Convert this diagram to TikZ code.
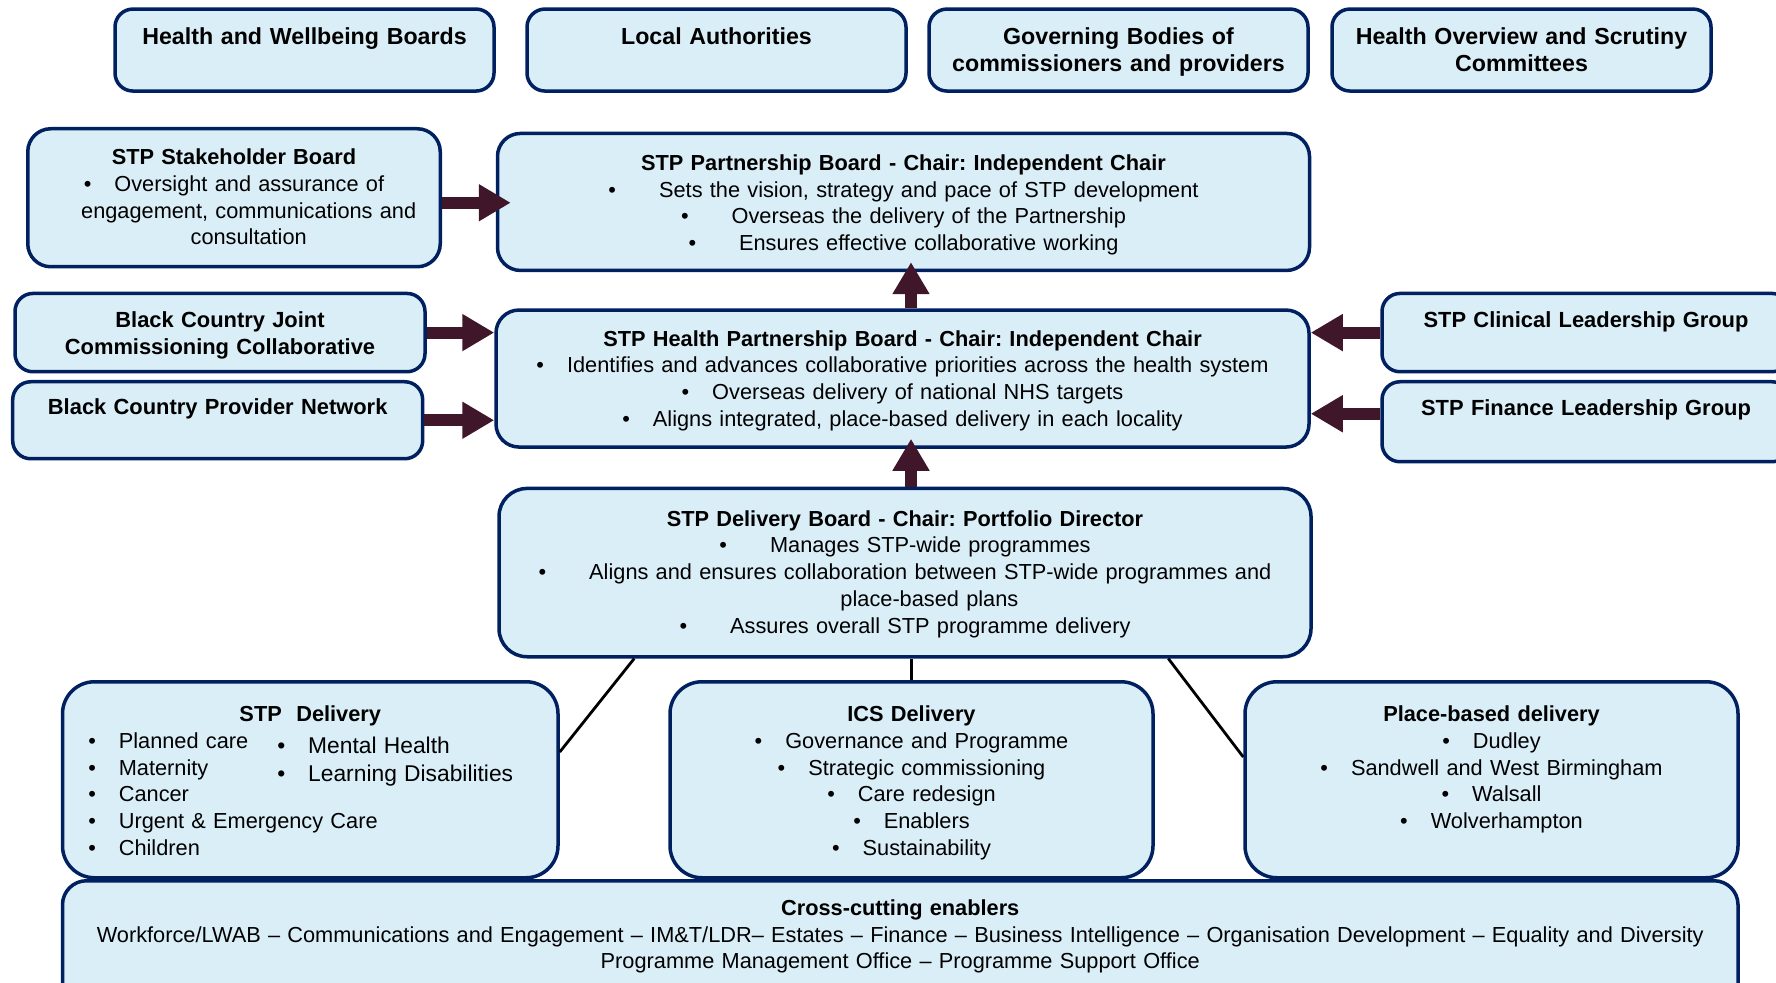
\documentclass[tikz,border=0pt]{standalone}
\usepackage{fontspec}
\setmainfont{Liberation Sans}
\usepackage{tikz}
\usetikzlibrary{arrows.meta,positioning,calc}

\definecolor{boxfill}{RGB}{218,238,248}
\definecolor{boxline}{RGB}{0,32,96}
\definecolor{arrowcol}{RGB}{64,22,42}

\newcommand{\bul}{\textbullet\hspace{11.5pt}}
\newcommand{\bulw}{\textbullet\hspace{21.5pt}}
\frenchspacing

\tikzset{
  box/.style={draw=boxline, fill=boxfill, line width=1.75pt, rounded corners=11.5pt,
    inner sep=0pt, anchor=north, align=center, font=\fontsize{10.88}{13.35}\selectfont},
  topbox/.style={box, text width=189.5pt, text height=17.75pt, text depth=23.25pt,
    rounded corners=9pt, font=\fontsize{11.6}{13.5}\selectfont\bfseries},
  sidebox/.style={box, text width=205pt, rounded corners=9pt,
    font=\fontsize{10.95}{13.35}\selectfont\bfseries},
  lowbox/.style={box, text height=20pt, text depth=78pt, rounded corners=16pt},
  bigarrow/.style={draw=arrowcol, line width=6pt, -{Triangle[length=16pt,width=17.5pt]}},
  link/.style={draw=black, line width=1.4pt},
}

\begin{document}
\begin{tikzpicture}[x=0.5pt,y=-0.5pt]
\useasboundingbox (0,0) rectangle (1776,983);
\clip (0,0) rectangle (1776,983);

% oversight bodies
\node[topbox] (hwb)  at (304.5,7.3)  {Health and Wellbeing Boards};
\node[topbox] (la)   at (716.5,7.3)  {Local Authorities};
\node[topbox] (gb)   at (1118.5,7.3) {Governing Bodies of\\commissioners and providers};
\node[topbox] (hosc) at (1521.5,7.3) {Health Overview and Scrutiny\\Committees};

% boards
\node[box, text width=206.25pt, text height=18pt, text depth=51pt] (stake) at (234,127)
  {\textbf{STP Stakeholder Board}\\
   \bul Oversight and assurance of\\
   \hspace*{14.7pt}engagement, communications and\\
   \hspace*{14.7pt}consultation};
\node[box, text width=406pt, text height=18.5pt, text depth=50pt] (pship) at (903.5,131.7)
  {\textbf{STP Partnership Board - Chair: Independent Chair}\\
   \bulw Sets the vision, strategy and pace of STP development\\
   \bulw Overseas the delivery of the Partnership\\
   \bulw Ensures effective collaborative working};
\node[box, text width=406.5pt, text height=18pt, text depth=50.5pt] (hpb) at (902.5,308.3)
  {\textbf{STP Health Partnership Board - Chair: Independent Chair}\\
   \bul Identifies and advances collaborative priorities across the health system\\
   \bul Overseas delivery of national NHS targets\\
   \bul Aligns integrated, place-based delivery in each locality};
\node[box, text width=406pt, text height=18.9pt, text depth=65.25pt, rounded corners=14pt] (deliv) at (905,486.7)
  {\textbf{STP Delivery Board - Chair: Portfolio Director}\\
   \bulw Manages STP-wide programmes\\
   \bulw Aligns and ensures collaboration between STP-wide programmes and\\
   \hspace*{24.4pt}place-based plans\\
   \bulw Assures overall STP programme delivery};

% groups feeding the health board
\node[sidebox, text height=17pt, text depth=22.15pt] (bcjcc) at (220,291.7)
  {Black Country Joint\\Commissioning Collaborative};
\node[sidebox, text height=16.5pt, text depth=22pt] (bcpn) at (217.7,380)
  {Black Country Provider Network};
\node[sidebox, text width=204pt, text height=16.8pt, text depth=22.35pt] (clin) at (1586,291.7)
  {STP Clinical Leadership Group};
\node[sidebox, text width=204pt, text height=17pt, text depth=23pt] (fin) at (1586,380)
  {STP Finance Leadership Group};

% delivery strands
\node[lowbox, text width=247.75pt] (stpdel) at (310.25,680)
  {\textbf{STP\ \ Delivery}\\
   \begin{minipage}[t]{107pt}\raggedright\leftskip=12.5pt
   \bul Planned care\\
   \bul Maternity\\
   \bul Cancer\\
   \mbox{\bul Urgent \& Emergency Care}\\
   \bul Children
   \end{minipage}\raisebox{-2.7pt}{\begin{minipage}[t]{140pt}\raggedright
   \fontsize{11.4}{13.65}\selectfont
   \bul Mental Health\\
   \bul Learning Disabilities
   \end{minipage}}};
\node[lowbox, text width=241.5pt] (ics) at (911.5,680)
  {\textbf{ICS Delivery}\\
   \bul Governance and Programme\\
   \bul Strategic commissioning\\
   \bul Care redesign\\
   \bul Enablers\\
   \bul Sustainability};
\node[lowbox, text width=246.5pt] (place) at (1491.5,680)
  {\textbf{Place-based delivery}\\
   \bul Dudley\\
   \bul Sandwell and West Birmingham\\
   \bul Walsall\\
   \bul Wolverhampton};
\node[box, text width=837.75pt, text height=17.3pt, text depth=48.2pt, rounded corners=12pt] (cross) at (900.25,879)
  {\textbf{Cross-cutting enablers}\\
   Workforce/LWAB – Communications and Engagement – IM\&T/LDR– Estates – Finance – Business Intelligence – Organisation Development – Equality and Diversity\\
   Programme Management Office – Programme Support Office};

% arrows
\draw[bigarrow, shorten >=-7.5pt] ($(stake.east)+(0,5)$) -- ($(stake.east -| pship.west)+(0,5)$);
\draw[bigarrow] (bcjcc.east) -- (bcjcc.east -| hpb.west);
\draw[bigarrow] (bcpn.east) -- (bcpn.east -| hpb.west);
\draw[bigarrow] (clin.west) -- (clin.west -| hpb.east);
\draw[bigarrow] ($(fin.west)+(0,-8)$) -- ($(fin.west -| hpb.east)+(0,-8)$);
\draw[bigarrow, shorten >=-5pt] ($(hpb.north)+(8.5,0)$) -- ($(hpb.north |- pship.south)+(8.5,0)$);
\draw[bigarrow, shorten >=-5pt] ($(deliv.north)+(6,0)$) -- ($(deliv.north |- hpb.south)+(6,0)$);

% links to delivery strands
\draw[link] ($(deliv.south west)+(137,0)$) -- ($(stpdel.north east)+(0,72)$);
\draw[link] (ics.north) -- (ics.north |- deliv.south);
\draw[link] ($(deliv.south west)+(671,0)$) -- ($(place.north west)+(0,77)$);
\end{tikzpicture}
\end{document}
